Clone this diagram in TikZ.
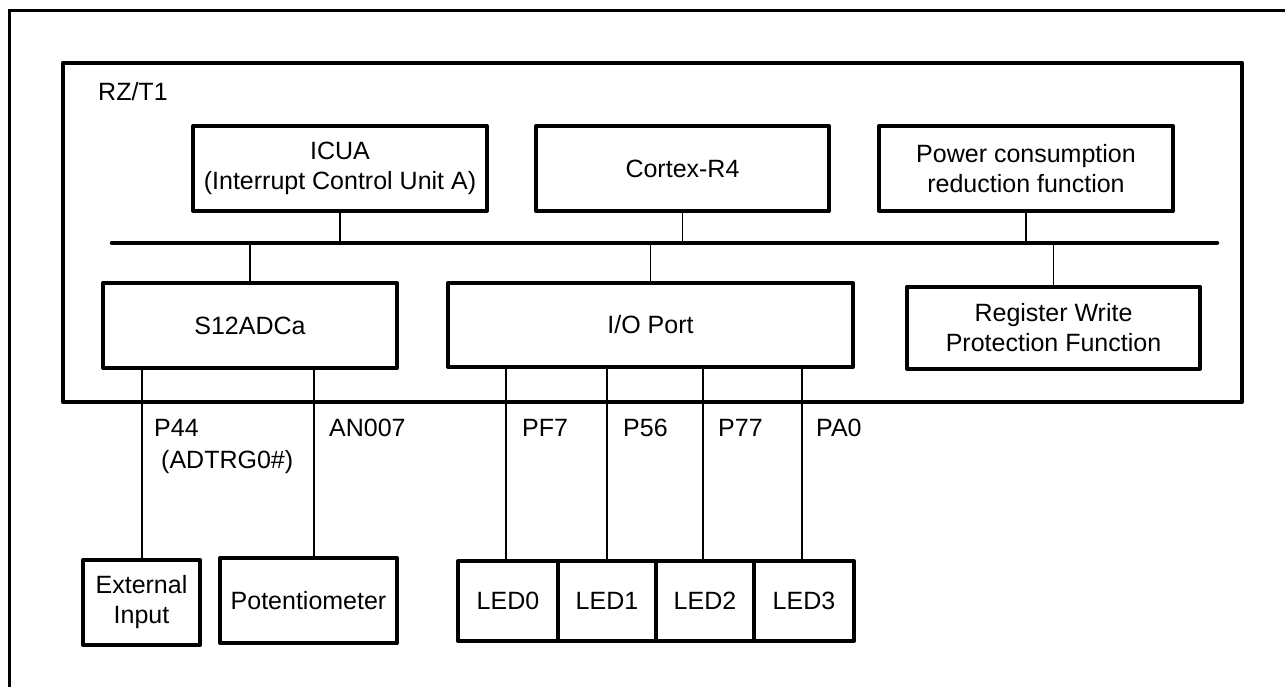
\documentclass[tikz,border=0pt]{standalone}
\usepackage{fontspec}
\setmainfont{Liberation Sans}
\begin{document}
\begin{tikzpicture}[x=1pt,y=-1pt,
  box/.style={draw, line width=4pt, line join=round, align=center, inner sep=0pt,
    font=\fontsize{25}{30}\selectfont},
  wire/.style={line width=1.5pt},
  busline/.style={line width=4.5pt, line cap=round},
  lbl/.style={anchor=base west, inner sep=0pt, font=\fontsize{25}{30}\selectfont}]
\useasboundingbox (0,0) rectangle (1285,686);
% outer frame (runs past the right and bottom edges)
\draw[line width=3pt] (9.5,10) rectangle (1300,720);
% RZ/T1 frame
\draw[line width=4.5pt, line join=round] (63,63) rectangle (1242,402);
\node[lbl] (rz) at (98,100) {RZ/T1};
% top row
\node[box, minimum width=294, minimum height=85] (icua) at (340,168.5) {ICUA\\(Interrupt Control Unit A)};
\node[box, minimum width=293, minimum height=85] (cortex) at (682.5,168.5) {Cortex-R4};
\node[box, minimum width=294, minimum height=85] (power) at (1026,168.5) {Power consumption\\reduction function};
% bus
\coordinate (busL) at (112,243);
\coordinate (busR) at (1217,243);
\draw[busline] (busL) -- (busR);
% lower row
\node[box, minimum width=294, minimum height=85] (s12) at (250,325.5) {S12ADCa};
\node[box, minimum width=405, minimum height=84] (io) at (650.5,325) {I/O Port};
\node[box, minimum width=293, minimum height=82] (reg) at (1053.5,327.5) {Register Write\\Protection Function};
% bus connectors
\draw[wire] (icua.south) -- ([yshift=2]icua.south |- busL);
\draw[wire] (cortex.south) -- ([yshift=2]cortex.south |- busL);
\draw[wire] (power.south) -- ([yshift=2]power.south |- busL);
\draw[wire] ([yshift=-2]s12.north |- busL) -- (s12.north);
\draw[wire] ([yshift=-2]io.north |- busL) -- (io.north);
\draw[wire] ([yshift=-2]reg.north |- busL) -- (reg.north);
% external parts
\node[box, minimum width=117, minimum height=85] (ext) at (141.5,602.5) {External\\Input};
\node[box, minimum width=177, minimum height=85] (pot) at (308.5,600.5) {Potentiometer};
\node[box, minimum width=100, minimum height=80] (led0) at (508,601) {LED0};
\node[box, minimum width=98, minimum height=80] (led1) at (607,601) {LED1};
\node[box, minimum width=98, minimum height=80] (led2) at (705,601) {LED2};
\node[box, minimum width=100, minimum height=80] (led3) at (804,601) {LED3};
% signal lines
\coordinate (xp44) at (142,0);
\coordinate (xan) at (314,0);
\coordinate (xpf7) at (506,0);
\coordinate (xp56) at (607,0);
\coordinate (xp77) at (703,0);
\coordinate (xpa0) at (802,0);
\draw[wire] (s12.south -| xp44) -- (ext.north -| xp44);
\draw[wire] (s12.south -| xan) -- (pot.north -| xan);
\draw[wire] (io.south -| xpf7) -- (led0.north -| xpf7);
\draw[wire] (io.south -| xp56) -- (led1.north -| xp56);
\draw[wire] (io.south -| xp77) -- (led2.north -| xp77);
\draw[wire] (io.south -| xpa0) -- (led3.north -| xpa0);
% labels
\node[lbl] (lp44) at (154,436) {P44};
\node[lbl] (ladtrg) at (161,468) {(ADTRG0\#)};
\node[lbl] (lan) at (329,436) {AN007};
\node[lbl] (lpf7) at (522,436) {PF7};
\node[lbl] (lp56) at (623,436) {P56};
\node[lbl] (lp77) at (718,436) {P77};
\node[lbl] (lpa0) at (816,436) {PA0};
\end{tikzpicture}
\end{document}
